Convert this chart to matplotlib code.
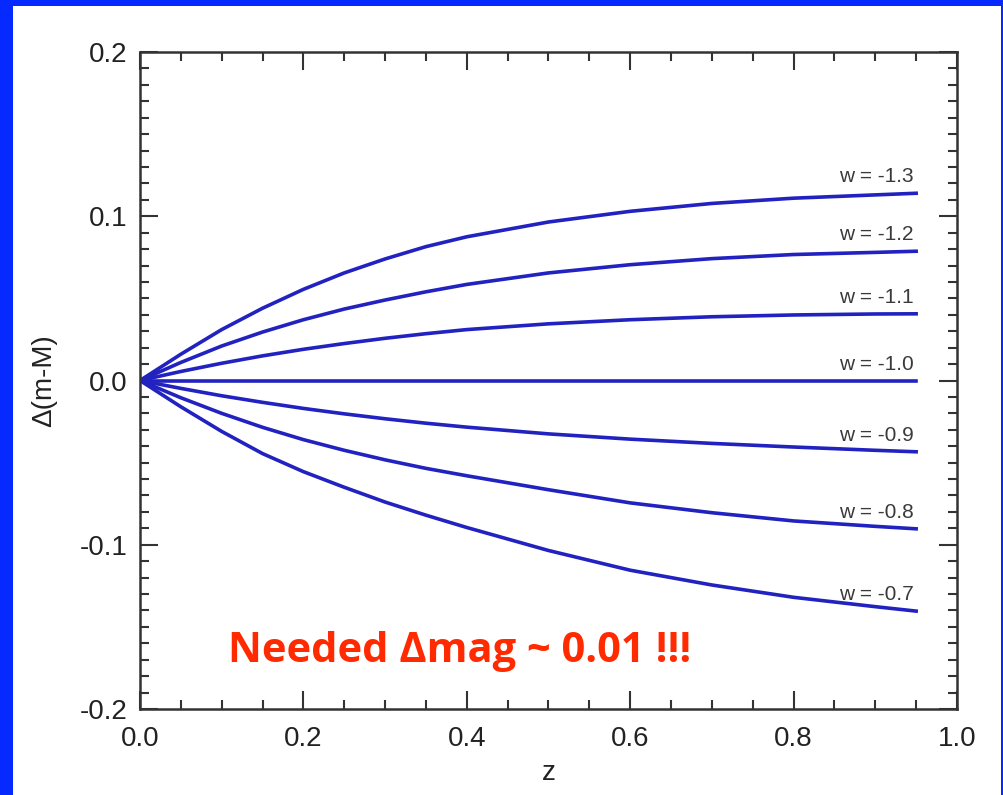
import numpy as np
import matplotlib
matplotlib.use('Agg')
import matplotlib.pyplot as plt
from matplotlib.patches import Rectangle

# redshift sample points and delta distance modulus for each w
z = [0.0, 0.05, 0.1, 0.15, 0.2, 0.25, 0.3, 0.35, 0.4, 0.5, 0.6, 0.7, 0.8, 0.9, 0.95]
w_labels = ['w = -1.3', 'w = -1.2', 'w = -1.1', 'w = -1.0', 'w = -0.9', 'w = -0.8', 'w = -0.7']
dm_13 = [0.0, 0.016, 0.031, 0.044, 0.0555, 0.0655, 0.074, 0.0815, 0.0875, 0.0965, 0.103, 0.1078, 0.111, 0.113, 0.114]
dm_12 = [0.0, 0.011, 0.021, 0.0295, 0.037, 0.0435, 0.049, 0.054, 0.0585, 0.0655, 0.0705, 0.0742, 0.0767, 0.078, 0.0787]
dm_11 = [0.0, 0.0055, 0.0105, 0.015, 0.019, 0.0225, 0.0257, 0.0285, 0.031, 0.0345, 0.037, 0.0388, 0.0399, 0.0405, 0.0406]
dm_10 = [0.0] * 15
dm_09 = [0.0, -0.0048, -0.0093, -0.0133, -0.017, -0.0203, -0.0233, -0.026, -0.0284, -0.0325, -0.0357, -0.0383, -0.0405, -0.0425, -0.0434]
dm_08 = [0.0, -0.0105, -0.020, -0.0285, -0.036, -0.0425, -0.0483, -0.0535, -0.058, -0.0665, -0.0745, -0.0805, -0.0855, -0.0888, -0.0903]
dm_07 = [0.0, -0.016, -0.031, -0.0445, -0.0555, -0.065, -0.074, -0.082, -0.0895, -0.1035, -0.1155, -0.1245, -0.132, -0.1377, -0.1404]
curves = [dm_13, dm_12, dm_11, dm_10, dm_09, dm_08, dm_07]

plt.rcParams['font.family'] = ['Liberation Sans', 'DejaVu Sans']

W, H = 1004, 795
fig = plt.figure(figsize=(W / 100, H / 100), dpi=100)
fig.patch.set_facecolor('#0529ff')
# white slide panel inside the blue frame
fig.add_artist(Rectangle((13 / W, 0), (1001 - 13) / W, (H - 6) / H,
                         transform=fig.transFigure, facecolor='white',
                         edgecolor='none', zorder=-10))

ax = fig.add_axes([140 / W, 1 - 709 / H, (957 - 140) / W, (709 - 52) / H])
ax.set_facecolor('white')

for dm, lab in zip(curves, w_labels):
    ax.plot(z, dm, color='#2222c0', lw=2.6, solid_joinstyle='round')
    ax.annotate(lab, (z[-1], dm[-1]), xytext=(-2, 5), textcoords='offset points',
                ha='right', va='bottom', fontsize=15, color='#3a3a3a')

ax.set_xlim(0, 1.0)
ax.set_ylim(-0.2, 0.2)
ax.set_xticks(np.arange(0, 1.01, 0.2))
ax.set_xticks(np.arange(0, 1.01, 0.05), minor=True)
ax.set_yticks([-0.2, -0.1, 0.0, 0.1, 0.2])
ax.set_yticks(np.arange(-0.2, 0.201, 0.01), minor=True)
ax.set_xticklabels(['0.0', '0.2', '0.4', '0.6', '0.8', '1.0'])
ax.set_yticklabels(['-0.2', '-0.1', '0.0', '0.1', '0.2'])

ax.tick_params(which='both', direction='in', top=True, right=True,
               labelsize=20, labelcolor='#222222', color='#333333', width=1.5)
ax.tick_params(axis='x', pad=12)
ax.tick_params(axis='y', pad=9)
ax.tick_params(which='major', length=13)
ax.tick_params(which='minor', length=6.5)
for s in ax.spines.values():
    s.set_linewidth(1.8)
    s.set_color('#333333')

ax.set_xlabel('z', fontsize=20, color='#222222', labelpad=6)
ax.set_ylabel('Δ(m-M)', fontsize=20, color='#222222', labelpad=16)

ax.text(0.108, 0.088, 'Needed \u0394mag ~ 0.01 !!!', transform=ax.transAxes,
        fontsize=30, fontweight='bold', color='#ff2a00',
        family=['Open Sans', 'DejaVu Sans'], ha='left', va='center')

fig.savefig('out.png', dpi=100, facecolor=fig.get_facecolor())
